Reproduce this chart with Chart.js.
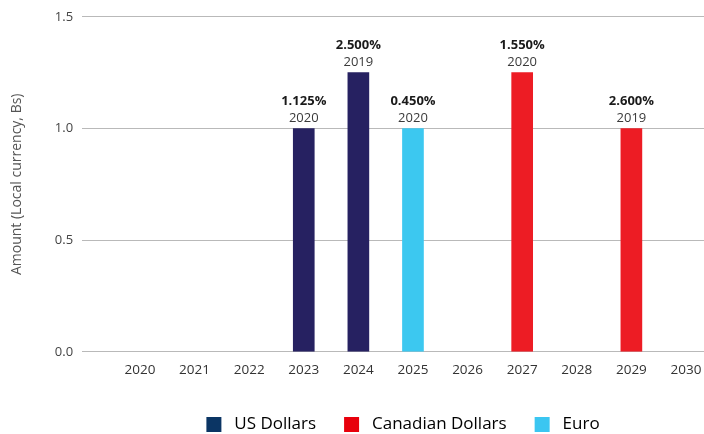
<!DOCTYPE html>
<html>
<head>
<meta charset="utf-8">
<script src="https://cdn.jsdelivr.net/npm/chart.js@4"></script>
<style>
  html, body { margin: 0; padding: 0; background: #fff; }
  #wrap { width: 704px; height: 434px; }
</style>
</head>
<body>
<div id="wrap"><canvas id="rates-chart"></canvas></div>
<script>
  var years = [2020, 2021, 2022, 2023, 2024, 2025, 2026, 2027, 2028, 2029, 2030];
  var usDollars = [null, null, null, 1.0, 1.25, null, null, null, null, null, null];
  var canadianDollars = [null, null, null, null, null, null, null, 1.25, null, 1.0, null];
  var euro = [null, null, null, null, null, 1.0, null, null, null, null, null];
  var rateLabels = [null, null, null, '1.125%', '2.500%', '0.450%', null, '1.550%', null, '2.600%', null];
  var baseYears = [null, null, null, '2020', '2019', '2020', null, '2020', null, '2019', null];
  var yTicks = [0, 0.5, 1.0, 1.5];

  function toPoints(values) {
    var points = [];
    years.forEach(function (year, i) {
      if (values[i] !== null) points.push({ x: year, y: values[i] });
    });
    return points;
  }

  // two line label above each bar: bold rate, then base year
  var barLabels = {
    id: 'barLabels',
    afterDatasetsDraw: function (chart) {
      var ctx = chart.ctx;
      ctx.save();
      ctx.textAlign = 'center';
      ctx.textBaseline = 'middle';
      chart.data.datasets.forEach(function (ds, di) {
        chart.getDatasetMeta(di).data.forEach(function (bar, j) {
          var i = years.indexOf(ds.data[j].x);
          if (rateLabels[i] === null) return;
          ctx.fillStyle = '#1a1a1a';
          ctx.font = 'bold 13px "Open Sans"';
          ctx.fillText(rateLabels[i], bar.x, bar.y - 27);
          ctx.fillStyle = '#3a3a3a';
          ctx.font = '13px "Open Sans"';
          ctx.fillText(baseYears[i], bar.x, bar.y - 10);
        });
      });
      ctx.restore();
    }
  };

  // legend in the original sits a bit right of the canvas centre
  var legendShift = {
    id: 'legendShift',
    afterLayout: function (chart) {
      if (chart.legend) chart.legend.left += 102;
    }
  };

  var legendColors = ['#0b3564', '#e8000c', '#3bc6f1'];

  new Chart(document.getElementById('rates-chart'), {
    type: 'bar',
    data: {
      datasets: [
        { label: 'US Dollars', data: toPoints(usDollars), backgroundColor: '#262161' },
        { label: 'Canadian Dollars', data: toPoints(canadianDollars), backgroundColor: '#ed1c24' },
        { label: 'Euro', data: toPoints(euro), backgroundColor: '#3cc8f0' }
      ]
    },
    options: {
      responsive: true,
      maintainAspectRatio: false,
      animation: false,
      layout: { padding: { top: 10, right: 0, left: 0, bottom: -9 } },
      datasets: { bar: { grouped: false, barThickness: 21 } },
      scales: {
        x: {
          type: 'linear',
          offset: false,
          min: 2018.94,
          max: 2030.33,
          grid: { display: false, drawTicks: false },
          border: { display: false },
          afterBuildTicks: function (axis) {
            axis.ticks = years.map(function (y) { return { value: y }; });
          },
          afterFit: function (axis) {
            axis.paddingLeft = 0;
            axis.paddingRight = 0;
          },
          ticks: {
            padding: 10,
            color: '#333',
            font: { family: 'Open Sans', size: 13.5 },
            callback: function (v) { return String(v); }
          }
        },
        y: {
          min: 0,
          max: 1.5,
          afterBuildTicks: function (axis) {
            axis.ticks = yTicks.map(function (v) { return { value: v }; });
          },
          grid: { color: '#b9b9b9', drawTicks: false },
          border: { display: false },
          ticks: {
            padding: 9,
            color: '#444',
            font: { family: 'Open Sans', size: 13 },
            callback: function (v) { return v.toFixed(1); }
          },
          title: {
            display: true,
            text: 'Amount (Local currency, Bs)',
            color: '#555',
            font: { family: 'Open Sans', size: 14 },
            padding: { top: 9, bottom: 20 }
          }
        }
      },
      plugins: {
        tooltip: { enabled: false },
        legend: {
          position: 'bottom',
          labels: {
            boxWidth: 15,
            boxHeight: 15,
            padding: 28,
            color: '#444',
            font: { family: 'Open Sans', size: 17 },
            generateLabels: function (chart) {
              return chart.data.datasets.map(function (ds, i) {
                return {
                  text: ' ' + ds.label,
                  fillStyle: legendColors[i],
                  strokeStyle: legendColors[i],
                  lineWidth: 0,
                  datasetIndex: i
                };
              });
            }
          }
        }
      }
    },
    plugins: [barLabels, legendShift]
  });
</script>
</body>
</html>
